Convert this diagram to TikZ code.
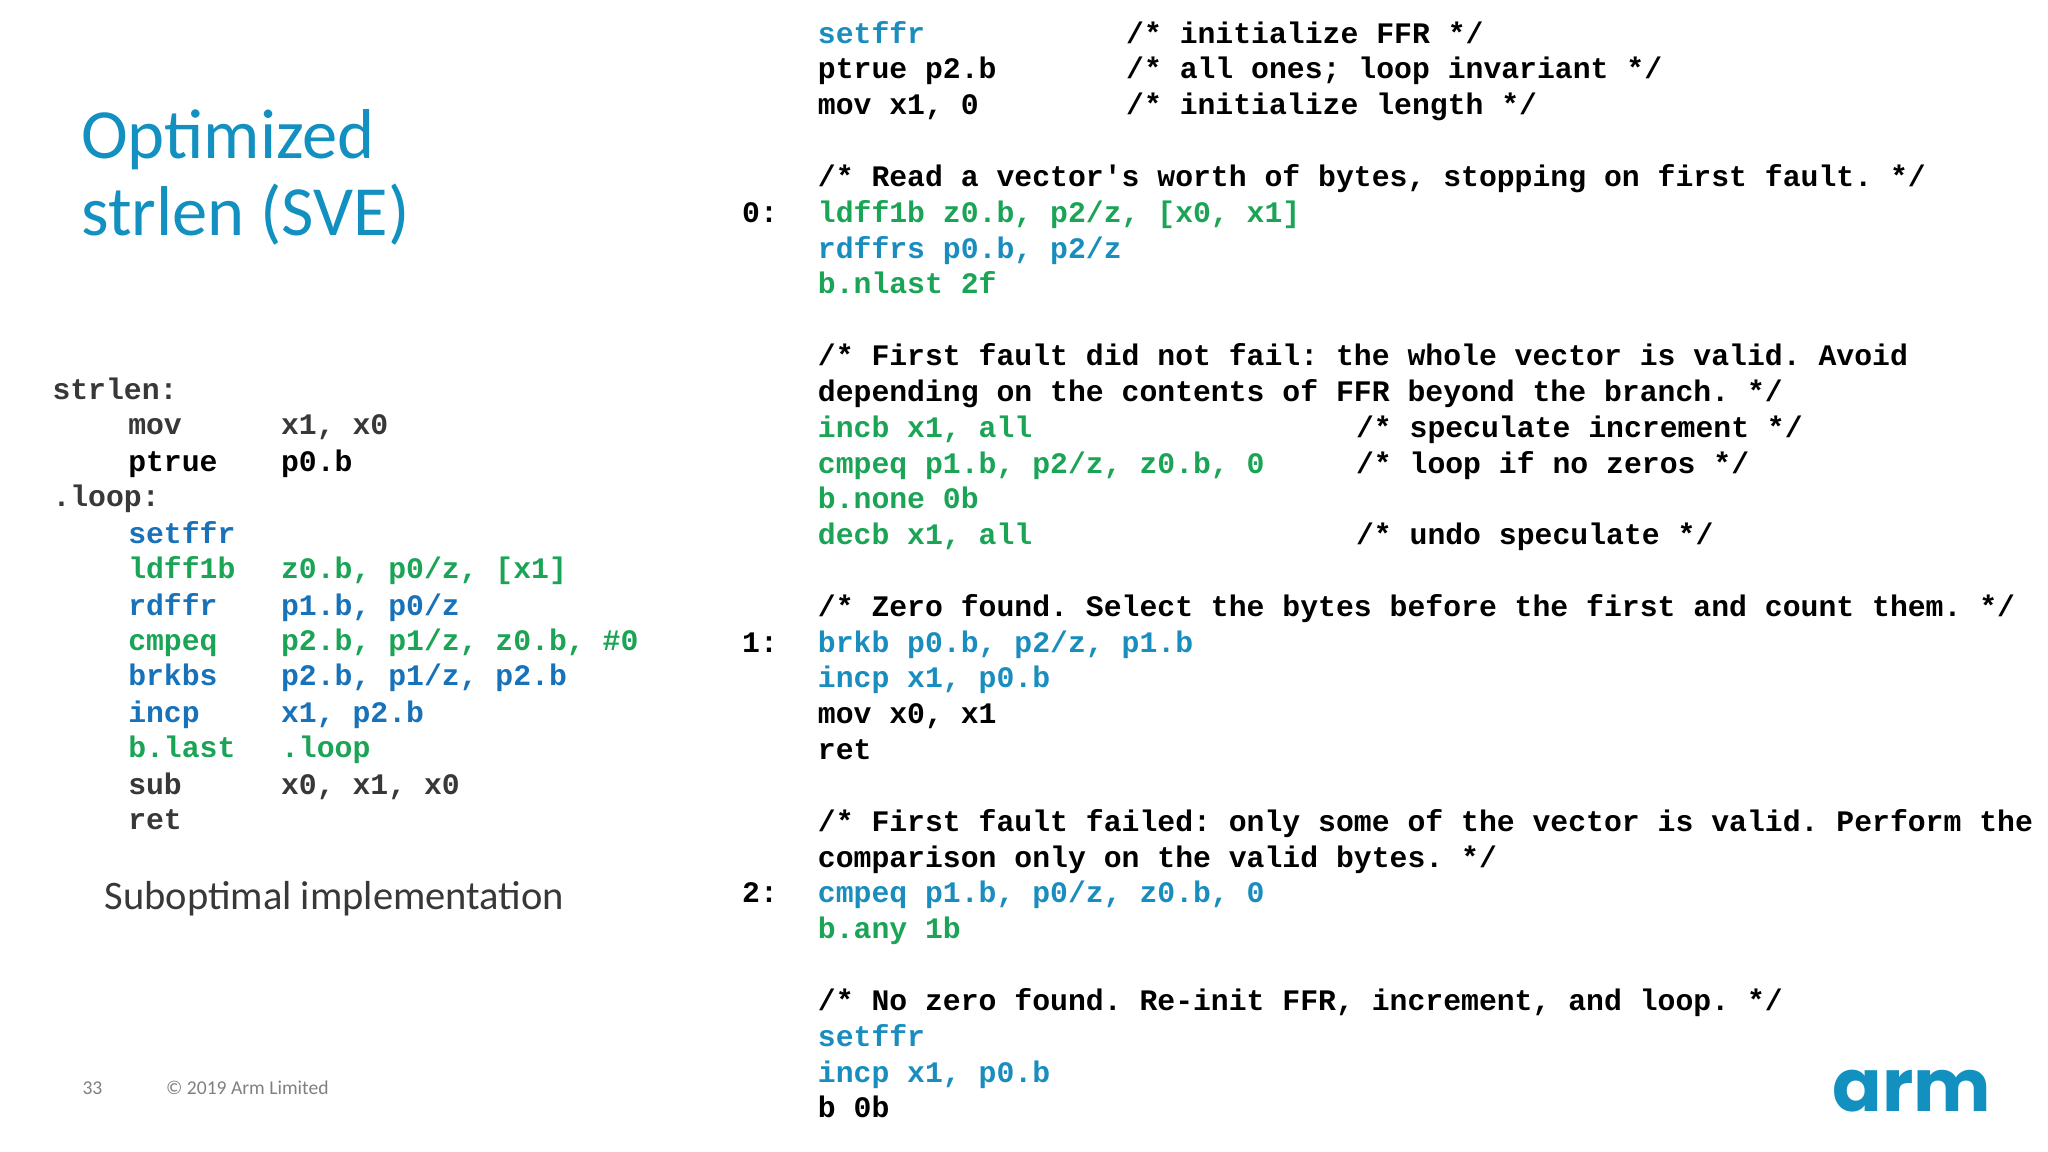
\documentclass[tikz,border=0pt]{standalone}
\usepackage{fontspec}
\setmainfont{Carlito}
\setmonofont{Liberation Mono}
\newfontfamily\logofont{Poppins}
\definecolor{rblue}{HTML}{1A8DBF}
\definecolor{lblue}{HTML}{1872BA}
\definecolor{cgreen}{HTML}{1BA455}
\definecolor{dgray}{HTML}{383838}
\definecolor{title}{HTML}{1290C0}
\begin{document}
\begin{tikzpicture}[x=1pt,y=-1pt,
  code/.style={anchor=base west,inner sep=0pt,font=\fontsize{22.8}{27}\ttfamily\bfseries},
  foot/.style={anchor=base west,inner sep=0pt,text=gray,font=\fontsize{15}{18}\selectfont}]
\useasboundingbox (0,0) rectangle (1568,882);
\fill[white] (0,0) rectangle (1568,882);
% title
\node[anchor=base west,inner sep=0pt,text=title,font=\fontsize{54}{60}\selectfont] (t1) at (62,121) {Optimized};
\node[anchor=base west,inner sep=0pt,text=title,font=\fontsize{54}{60}\selectfont] (t2) at (62,180) {strlen (SVE)};
% left code
\def\ly#1{\numexpr 306+#1*274/10\relax}
\node[code,text=dgray] (l0) at (40,306) {strlen:};
\node[code,text=dgray] (l1a) at (98,333) {mov};    \node[code,text=dgray] (l1b) at (215,333) {x1, x0};
\node[code,text=black] (l2a) at (98,361) {ptrue};  \node[code,text=black] (l2b) at (215,361) {p0.b};
\node[code,text=dgray] (l3) at (40,388) {.loop:};
\node[code,text=lblue] (l4a) at (98,416) {setffr};
\node[code,text=cgreen] (l5a) at (98,443) {ldff1b}; \node[code,text=cgreen] (l5b) at (215,443) {z0.b, p0/z, [x1]};
\node[code,text=lblue] (l6a) at (98,471) {rdffr};  \node[code,text=lblue] (l6b) at (215,471) {p1.b, p0/z};
\node[code,text=cgreen] (l7a) at (98,498) {cmpeq}; \node[code,text=cgreen] (l7b) at (215,498) {p2.b, p1/z, z0.b, \#0};
\node[code,text=lblue] (l8a) at (98,525) {brkbs};  \node[code,text=lblue] (l8b) at (215,525) {p2.b, p1/z, p2.b};
\node[code,text=lblue] (l9a) at (98,553) {incp};   \node[code,text=lblue] (l9b) at (215,553) {x1, p2.b};
\node[code,text=cgreen] (l10a) at (98,580) {b.last}; \node[code,text=cgreen] (l10b) at (215,580) {.loop};
\node[code,text=dgray] (l11a) at (98,608) {sub};   \node[code,text=dgray] (l11b) at (215,608) {x0, x1, x0};
\node[code,text=dgray] (l12a) at (98,635) {ret};
\node[anchor=base west,inner sep=0pt,text=dgray,font=\fontsize{31}{36}\selectfont] (sub) at (80,696) {Suboptimal implementation};
% right code
\newcommand\rl[4]{\node[code,text=#3] (#1) at (626,{33+#2*27.43}) {#4};}
\newcommand\rc[4]{\node[code,text=black] (#1) at (#3,{33+#2*27.43}) {#4};}
\rl{r0}{0}{rblue}{setffr}          \rc{c0}{0}{862}{/* initialize FFR */}
\rl{r1}{1}{black}{ptrue p2.b}      \rc{c1}{1}{862}{/* all ones; loop invariant */}
\rl{r2}{2}{black}{mov x1, 0}       \rc{c2}{2}{862}{/* initialize length */}
\rl{r4}{4}{black}{/* Read a vector's worth of bytes, stopping on first fault. */}
\rc{n0}{5}{568}{0:}
\rl{r5}{5}{cgreen}{ldff1b z0.b, p2/z, [x0, x1]}
\rl{r6}{6}{rblue}{rdffrs p0.b, p2/z}
\rl{r7}{7}{cgreen}{b.nlast 2f}
\rl{r9}{9}{black}{/* First fault did not fail: the whole vector is valid. Avoid}
\rl{r10}{10}{black}{depending on the contents of FFR beyond the branch. */}
\rl{r11}{11}{cgreen}{incb x1, all}            \rc{c11}{11}{1038}{/* speculate increment */}
\rl{r12}{12}{cgreen}{cmpeq p1.b, p2/z, z0.b, 0} \rc{c12}{12}{1038}{/* loop if no zeros */}
\rl{r13}{13}{cgreen}{b.none 0b}
\rl{r14}{14}{cgreen}{decb x1, all}            \rc{c14}{14}{1038}{/* undo speculate */}
\rl{r16}{16}{black}{/* Zero found. Select the bytes before the first and count them. */}
\rc{n1}{17}{568}{1:}
\rl{r17}{17}{rblue}{brkb p0.b, p2/z, p1.b}
\rl{r18}{18}{rblue}{incp x1, p0.b}
\rl{r19}{19}{black}{mov x0, x1}
\rl{r20}{20}{black}{ret}
\rl{r22}{22}{black}{/* First fault failed: only some of the vector is valid. Perform the}
\rl{r23}{23}{black}{comparison only on the valid bytes. */}
\rc{n2}{24}{568}{2:}
\rl{r24}{24}{rblue}{cmpeq p1.b, p0/z, z0.b, 0}
\rl{r25}{25}{cgreen}{b.any 1b}
\rl{r27}{27}{black}{/* No zero found. Re-init FFR, increment, and loop. */}
\rl{r28}{28}{rblue}{setffr}
\rl{r29}{29}{rblue}{incp x1, p0.b}
\rl{r30}{30}{black}{b 0b}
% footer
\node[foot] (pg) at (63,838) {33};
\node[foot] (cp) at (127,838) {© 2019 Arm Limited};
\node[anchor=base west,inner sep=0pt,text=title,font=\fontsize{56}{60}\logofont\bfseries] (logo) at (1403,851) {arm};
\end{tikzpicture}
\end{document}
